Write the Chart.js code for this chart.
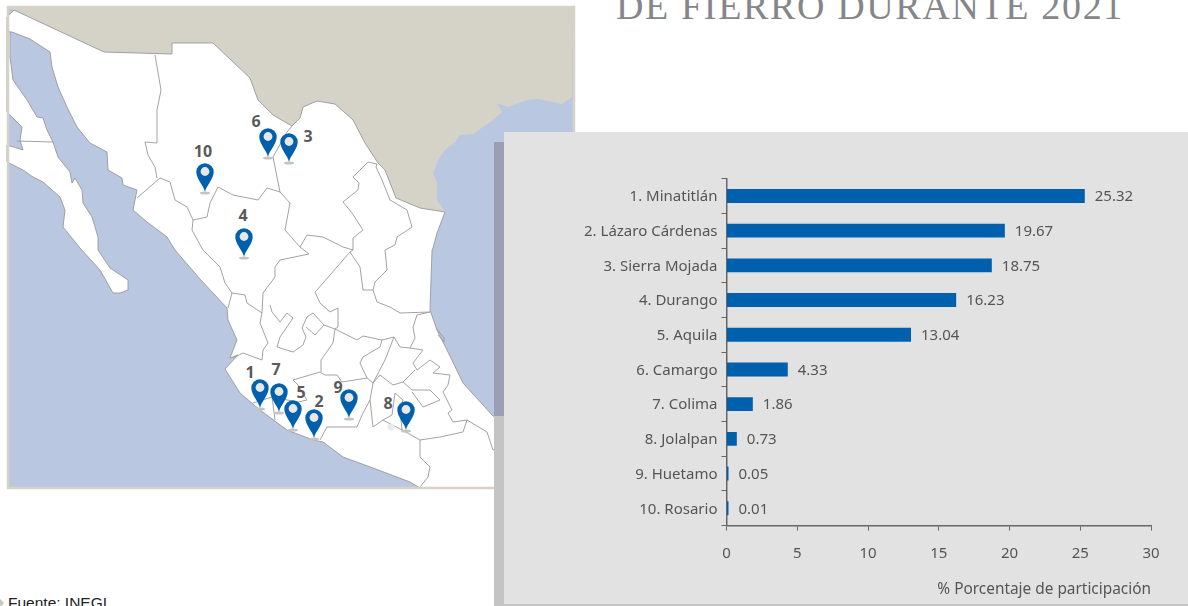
<!DOCTYPE html>
<html lang="es">
<head>
<meta charset="utf-8">
<title>Producción de mineral de fierro 2021</title>
<style>
html,body{margin:0;padding:0;background:#fff;width:1188px;height:606px;overflow:hidden}
#map{position:absolute;left:0;top:0}
#shadowA{position:absolute;left:494px;top:142px;width:10px;height:274px;background:#9a9fb5}
#shadowB{position:absolute;left:494px;top:416px;width:10px;height:190px;background:#c4c4c4}
#shadowC{position:absolute;left:494px;top:604px;width:694px;height:2px;background:#c4c4c4}
#panel{position:absolute;left:504px;top:132px;width:684px;height:472px;background:#e2e2e2}
#ttl{position:absolute;left:616px;top:-17px;font:38px "Liberation Serif",serif;color:#858689;letter-spacing:1.64px;white-space:nowrap;line-height:46px}
#src{position:absolute;left:8px;top:594px;font:15.5px "Liberation Sans",sans-serif;color:#222;white-space:nowrap}
#mk{position:absolute;left:-3px;top:600px;width:6px;height:6px;background:#c8c8c0;transform:rotate(45deg)}
canvas{position:absolute;left:0;top:0}
</style>
</head>
<body>
<svg id="map" width="1188" height="606" viewBox="0 0 1188 606">
<rect x="8" y="7" width="566" height="481" fill="#bac7e1"/>
<path fill="#d5d3c8" d="M9,8 L14,10 104,52 172,54 172,43 213,43 250,78 258,100 273,115 292,126 300,118 303,107 317,101 335,104 353,120 365,143 378,163 385,170 396,198 420,208 445,212 437,200 437,182 433,174 438,160 445,150 455,142 460,135 473,134 493,120 502,112 497,103 508,107 527,100 538,99 562,104 572,97 573,8 Z"/>
<path fill="#fff" stroke="#999" stroke-width="0.9" stroke-linejoin="round" d="M7,17 L14,10 104,52 172,54 172,43 213,43 250,78 258,100 273,115 292,126 300,118 303,107 317,101 335,104 353,120 365,143 378,163 385,170 396,198 420,208 445,212 437,233 433,248 432,250 430,310 437,330 447,350 463,383 493,416 L500,418 500,488 420,488 410,482 373,468 343,457 323,442 313,440 287,430 260,410 240,393 225,369 238,355 230,358 237,340 228,320 227,308 213,293 200,279 175,250 167,237 147,222 133,210 137,190 123,185 122,178 108,170 107,152 90,143 77,127 67,107 58,87 52,67 50,52 30,39 12,32 7,32 Z"/>
<path fill="#fff" stroke="#999" stroke-width="0.9" stroke-linejoin="round" d="M7,32 L10,32 10,57 13,80 27,100 37,117 43,118 47,130 53,142 58,157 70,172 72,183 75,178 82,190 83,203 92,217 98,237 98,250 110,268 128,280 128,290 120,293 113,293 100,270 80,248 63,227 65,210 60,197 43,182 33,177 23,170 7,162 7,145 23,150 20,140 22,127 7,112 Z"/>
<g fill="none" stroke="#999" stroke-width="0.9" stroke-linejoin="round">
<path d="M17,141 L53,142"/>
<path d="M155,55 L161,90 157,110 157,143 145,142 148,155 155,167 157,178"/>
<path d="M137,198 L160,178 170,182 175,200 187,207 193,220 207,217 210,203 218,187 233,195 258,200 267,188 280,192"/>
<path d="M193,220 L192,230 203,250 210,257 220,267 225,283 232,293 245,295 247,303 262,313"/>
<path d="M232,293 L228,308"/>
<path d="M292,126 L287,132 273,157 280,192 290,203 285,230 300,247 309,254 280,260 275,267 275,277 263,293 262,313"/>
<path d="M300,247 L307,235 323,237 343,247 353,250 353,238 363,230 352,213 343,202 358,190 359,183 353,177 368,162 377,164"/>
<path d="M377,164 L376,167 382,180 390,200 407,210 412,227 397,237 395,245 385,250 387,270 375,282 373,290 363,290 360,267 350,252 317,290 315,292 320,303 330,312 338,308 338,327 335,329"/>
<path d="M373,290 L377,302 390,307 400,313 430,312"/>
<path d="M353,250 L350,252"/>
<path d="M262,313 L260,323 268,343 263,350 262,360 243,353 233,358"/>
<path d="M270,305 L272,312 280,322 287,313 293,318 280,337 277,347 293,352 303,345 306,337 302,328 307,317 313,313 324,325 315,335 306,327"/>
<path d="M324,325 L335,329 357,340 363,336 382,340 394,337 400,347 410,348 415,338 413,327 417,315 430,312"/>
<path d="M335,329 L333,343 321,360 321,372"/>
<path d="M382,340 L380,347 363,357 360,363 367,378 373,383 370,400 362,415 357,427 327,427 320,440"/>
<path d="M293,380 L320,372 325,375 337,375 342,382 367,378"/>
<path d="M293,380 L298,385 307,400 298,402 272,397 253,403"/>
<path d="M272,397 L275,420"/>
<path d="M394,337 L385,360 373,383 380,375 393,385 403,382 412,390 430,390 440,400 423,407 412,392"/>
<path d="M370,400 L373,427 383,420 392,415 395,393 403,400 400,410 402,430 420,440 420,457 430,467 428,477 420,487"/>
<path d="M383,420 L402,430"/>
<path d="M420,440 L440,437 463,432 467,420 487,432 493,450 504,445"/>
<path d="M410,348 L423,350 413,363 417,370 430,360 440,367 433,373 450,375 448,385 443,392 452,410 448,413 453,422 467,420"/>
<path d="M403,382 L415,370"/>
<path d="M436,328 L444,338 444,342 438,335"/>
</g>
<rect x="8" y="7" width="566" height="481" fill="none" stroke="#d5d3c8" stroke-width="2.5"/>
<defs>
<g id="pin">
<ellipse cx="0" cy="0" rx="5" ry="1.5" fill="#c4c4c4"/>
<path fill="#0060ae" d="M0,-1 C-1,-7 -8.7,-14 -8.7,-21 A8.7,8.7 0 1 1 8.7,-21 C8.7,-14 1,-7 0,-1 Z"/>
<circle cx="0" cy="-21.5" r="4.4" fill="#e8e8e8"/>
</g>
</defs>
<circle cx="391" cy="427" r="3.5" fill="#eaeaea"/>
<use href="#pin" x="205" y="193"/><use href="#pin" x="268" y="158"/><use href="#pin" x="289" y="163"/>
<use href="#pin" x="244" y="258"/><use href="#pin" x="260" y="409"/><use href="#pin" x="279" y="413"/>
<use href="#pin" x="293" y="430"/><use href="#pin" x="314" y="439"/><use href="#pin" x="349" y="419"/>
<use href="#pin" x="406" y="431"/>
<g font-family="Open Sans, sans-serif" font-weight="700" font-size="16" fill="#5a5a5a" text-anchor="middle">
<text x="203" y="157">10</text><text x="256" y="127">6</text><text x="308" y="142">3</text>
<text x="243" y="221">4</text><text x="250" y="378">1</text><text x="276" y="375">7</text>
<text x="301" y="398">5</text><text x="319" y="407">2</text><text x="338" y="393">9</text><text x="388" y="409">8</text>
</g>
</svg>
<div id="shadowA"></div><div id="shadowB"></div><div id="shadowC"></div><div id="panel"></div>
<div id="ttl">DE FIERRO DURANTE 2021</div>
<div id="mk"></div><div id="src">Fuente: INEGI</div>
<canvas id="c" width="1188" height="606"></canvas>
<script src="https://cdn.jsdelivr.net/npm/chart.js@4"></script>
<script>
const categories = ["1. Minatitlán","2. Lázaro Cárdenas","3. Sierra Mojada","4. Durango","5. Aquila","6. Camargo","7. Colima","8. Jolalpan","9. Huetamo","10. Rosario"];
const shares = [25.32,19.67,18.75,16.23,13.04,4.33,1.86,0.73,0.05,0.01];
const axisTitle = "% Porcentaje de participación";

const FONT = '"Noto Sans", sans-serif';
const INK = "#555555";
const AXIS = "#666666";

const valueLabels = {
  id: "valueLabels",
  afterDatasetsDraw(chart) {
    const { ctx } = chart;
    const meta = chart.getDatasetMeta(0);
    ctx.save();
    ctx.font = "15px " + FONT;
    ctx.fillStyle = INK;
    ctx.textBaseline = "middle";
    ctx.textAlign = "left";
    meta.data.forEach((bar, i) => {
      ctx.fillText(shares[i].toFixed(2), bar.x + 10, bar.y + 1);
    });
    ctx.restore();
  }
};

new Chart(document.getElementById("c"), {
  type: "bar",
  data: {
    labels: categories,
    datasets: [{
      data: shares,
      backgroundColor: "#0060ae",
      borderWidth: 0,
      barPercentage: 0.4,
      categoryPercentage: 1,
      minBarLength: 2
    }]
  },
  plugins: [valueLabels],
  options: {
    indexAxis: "y",
    responsive: false,
    animation: false,
    layout: { padding: { left: 0, right: 37, top: 178.6, bottom: 0 } },
    plugins: { legend: { display: false }, tooltip: { enabled: false }, title: { display: false } },
    scales: {
      y: {
        offset: true,
        afterFit(scale) { scale.width = 726.5; },
        grid: { drawOnChartArea: false, color: AXIS, tickLength: 5, lineWidth: 1 },
        border: { color: AXIS, width: 1.5 },
        ticks: { color: INK, font: { family: FONT, size: 15 }, padding: 4, autoSkip: false, labelOffset: 1 }
      },
      x: {
        min: 0, max: 30,
        afterFit(scale) { scale.height = 80.4; },
        grid: { drawOnChartArea: false, color: AXIS, tickLength: 5, lineWidth: 1 },
        border: { color: AXIS, width: 1.5 },
        ticks: { stepSize: 5, color: INK, font: { family: FONT, size: 15 }, padding: 14, maxRotation: 0 },
        title: {
          display: true, text: axisTitle, align: "end", color: INK,
          font: { family: FONT, size: 15.4 }, padding: { top: 0, bottom: 7 }
        }
      }
    }
  }
});
</script>
</body>
</html>
